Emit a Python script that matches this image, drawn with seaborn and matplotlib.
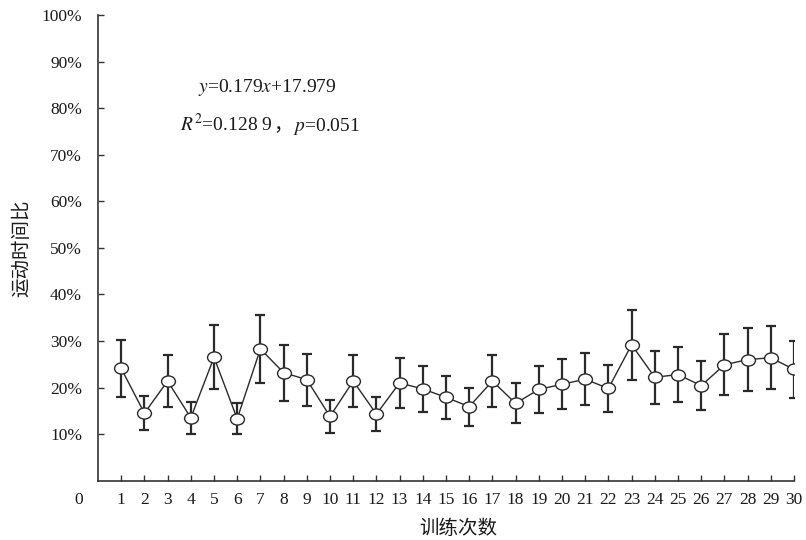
import matplotlib
matplotlib.use("Agg")
import matplotlib.pyplot as plt
import seaborn as sns
import numpy as np
import pandas as pd
from matplotlib.path import Path
from matplotlib.transforms import Affine2D
from matplotlib.offsetbox import TextArea, HPacker, AnnotationBbox

sessions = list(range(1, 31))
mean_pct = [24.1, 14.5, 21.4, 13.5, 26.5, 13.3, 28.3, 23.2, 21.7, 13.8,
            21.4, 14.3, 21.0, 19.7, 17.9, 15.9, 21.4, 16.6, 19.6, 20.7,
            21.8, 19.8, 29.2, 22.2, 22.8, 20.4, 24.9, 26.0, 26.4, 23.9]
err_pct = [6.2, 3.7, 5.5, 3.5, 6.9, 3.3, 7.3, 6.0, 5.6, 3.6,
           5.5, 3.7, 5.4, 5.0, 4.6, 4.1, 5.5, 4.3, 5.0, 5.35,
           5.65, 5.15, 7.5, 5.75, 5.9, 5.3, 6.5, 6.7, 6.8, 6.15]
y_ticks = [10, 20, 30, 40, 50, 60, 70, 80, 90, 100]
y_ticklabels = ["10%", "20%", "30%", "40%", "50%", "60%", "70%", "80%", "90%", "100%"]
x_label = "训练次数"
y_label = "运动时间比"
eq_line1 = r"$y$=0.179$x$+17.979"
eq_line2_parts = [r"$R^2$=0.128 9", "，", r"$p$=0.051"]

sns.set_theme(style="ticks")
plt.rcParams['font.family'] = ['Liberation Serif', 'Noto Sans CJK SC', 'DejaVu Sans']
plt.rcParams['mathtext.fontset'] = 'stix'
plt.rcParams['text.color'] = '#1a1a1a'
plt.rcParams['xtick.color'] = '#333333'
plt.rcParams['ytick.color'] = '#333333'
plt.rcParams['xtick.labelcolor'] = '#1a1a1a'
plt.rcParams['ytick.labelcolor'] = '#1a1a1a'

df = pd.DataFrame({"session": sessions, "mean": mean_pct, "err": err_pct})

fig = plt.figure(figsize=(8.06, 5.4), dpi=100)
ax = fig.add_axes([98/806, 1-480.7/540, (794-98)/806, (480.7-15)/540])

ell = Path.unit_circle().transformed(Affine2D().scale(1.25, 1.0))

ax.errorbar(df["session"], df["mean"], yerr=df["err"], fmt='none',
            ecolor='#2a2a2a', elinewidth=1.6, capsize=3.8, capthick=1.6, zorder=2)
sns.lineplot(data=df, x="session", y="mean", ax=ax, color='#2a2a2a', linewidth=1.0,
             marker=ell, markersize=10, markerfacecolor='white',
             markeredgecolor='#2a2a2a', markeredgewidth=1.0, zorder=3)

ax.set_xlim(0, 30)
ax.set_ylim(0, 100)
ax.set_xticks(sessions)
ax.set_xticklabels([str(s) for s in sessions], fontsize=12.5)
ax.set_yticks(y_ticks)
ax.set_yticklabels(y_ticklabels, fontsize=12.5)
ax.tick_params(direction='in', length=4, width=1.0, pad=8)
ax.tick_params(axis='y', pad=11.5)
for s in ['top', 'right']:
    ax.spines[s].set_visible(False)
for s in ['left', 'bottom']:
    ax.spines[s].set_color('#333333')
    ax.spines[s].set_linewidth(1.2)
ax.set_xlabel("")
ax.set_ylabel("")

ax.text(-0.028, -0.042, "0", transform=ax.transAxes, ha='center', va='center', fontsize=12.5)

fig.text(458/806, 1-529/540, x_label, ha='center', va='center', fontsize=14,
         family=['Noto Sans CJK SC'], fontweight='light')
fig.text(22/806, 1-248/540, y_label, ha='center', va='center', rotation=90, fontsize=14,
         family=['Noto Sans CJK SC'], fontweight='light')

fig.text(267/806, 1-88/540, eq_line1, ha='center', va='center', fontsize=14)

areas = []
for i, part in enumerate(eq_line2_parts):
    props = dict(fontsize=14, color='#1a1a1a')
    if part == "，":
        props['family'] = ['Noto Sans CJK SC']
        props['fontweight'] = 'light'
    areas.append(TextArea(part, textprops=props))
pack = HPacker(children=areas, align='baseline', pad=0, sep=0)
ab = AnnotationBbox(pack, (270/806, 1-125/540), xycoords='figure fraction',
                    box_alignment=(0.5, 0.5), frameon=False, pad=0)
fig.add_artist(ab)

fig.savefig("out.png", dpi=100)
